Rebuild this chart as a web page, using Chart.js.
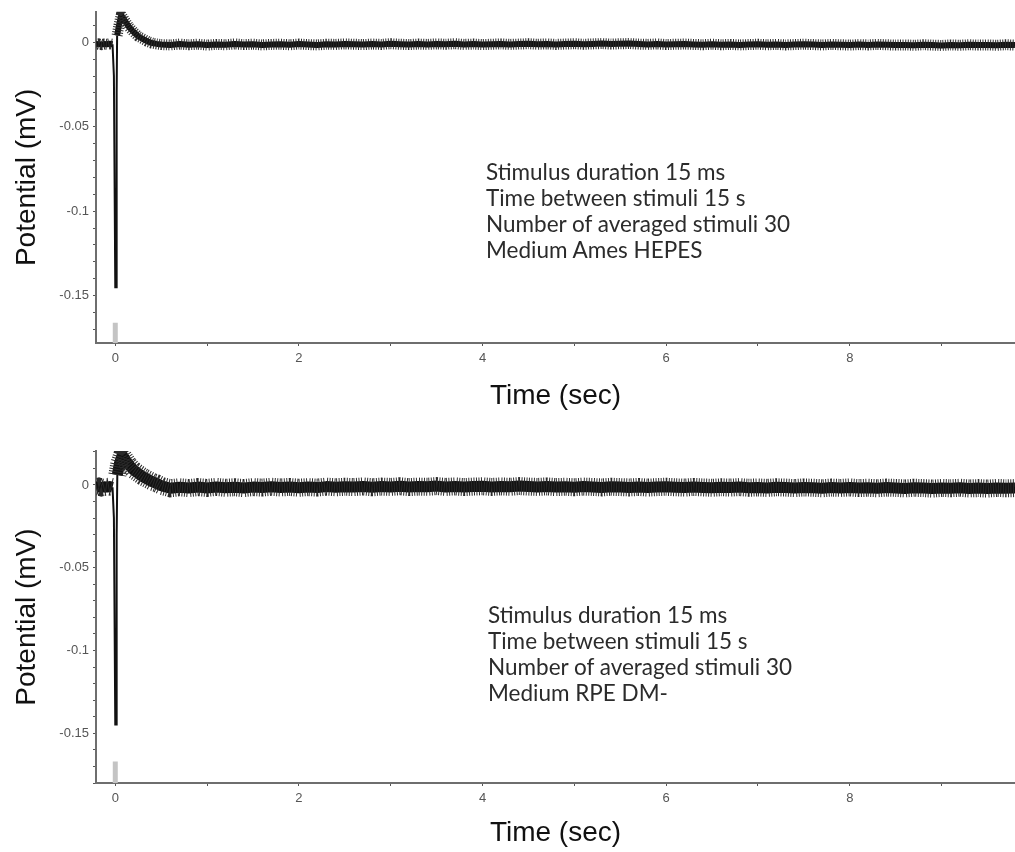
<!DOCTYPE html>
<html>
<head>
<meta charset="utf-8">
<script src="https://cdn.jsdelivr.net/npm/chart.js@4/dist/chart.umd.min.js"></script>
<style>
    html, body { margin: 0; padding: 0; background: #fff; }
    body { width: 1015px; height: 852px; position: relative; overflow: hidden; }
    .wrap { position: absolute; left: 0; width: 1015px; }
    .note {
        position: absolute;
        font-family: Lato, "Noto Sans", sans-serif;
        font-size: 22.5px;
        line-height: 26px;
        color: #2b2b2b;
        white-space: nowrap;
    }
</style>
</head>
<body>
<div class="wrap" style="top:0;height:420px"><canvas id="topChart"></canvas></div>
<div class="wrap" style="top:420px;height:432px"><canvas id="bottomChart"></canvas></div>

<div class="note" style="left:486px;top:159px">
    Stimulus duration 15 ms<br>Time between stimuli 15 s<br>Number of averaged stimuli 30<br>Medium Ames HEPES
</div>
<div class="note" style="left:488px;top:602px">
    Stimulus duration 15 ms<br>Time between stimuli 15 s<br>Number of averaged stimuli 30<br>Medium RPE DM-
</div>

<script>
// --- Data ---
const xTickLabels = ['0', '2', '4', '6', '8'];
const yTickLabels = ['0', '-0.05', '-0.1', '-0.15'];

// before the flash
const preTime = [-0.21, -0.18, -0.15, -0.12, -0.09, -0.06, -0.03];
const prePotentialA = [-0.0013, -0.0010, -0.0014, -0.0011, -0.0012, -0.0009, -0.0012];
const prePotentialB = [-0.0014, -0.0010, -0.0015, -0.0011, -0.0013, -0.0010, -0.0014];

// the fast negative spike
const spikeTimeA = [-0.03, -0.015, 0, 0.008, 0.015, 0.02];
const spikePotentialA = [-0.0012, -0.020, -0.145, -0.145, -0.030, 0.004];
const spikeTimeB = [-0.03, -0.015, 0, 0.008, 0.015, 0.022];
const spikePotentialB = [-0.0014, -0.020, -0.1446, -0.1446, -0.030, 0.006];

// positive overshoot and decay
const decayTimeA = [0.02, 0.04, 0.065, 0.1, 0.15, 0.2, 0.25, 0.3, 0.35, 0.4, 0.45, 0.5];
const decayPotentialA = [0.004, 0.010, 0.016, 0.013, 0.009, 0.006, 0.0035, 0.002, 0.0005, -0.0005, -0.0010, -0.0014];
const decayTimeB = [0.022, 0.045, 0.075, 0.1, 0.15, 0.2, 0.25, 0.3, 0.35, 0.4, 0.45, 0.5];
const decayPotentialB = [0.006, 0.013, 0.018, 0.016, 0.012, 0.009, 0.007, 0.005, 0.0035, 0.002, 0.001, -0.0005];

// steady noisy baseline
const tailTime = [
    0.6, 0.7, 0.8, 0.9, 1.0, 1.1, 1.2, 1.3, 1.4, 1.5,
    1.6, 1.7, 1.8, 1.9, 2.0, 2.1, 2.2, 2.3, 2.4, 2.5,
    2.6, 2.7, 2.8, 2.9, 3.0, 3.1, 3.2, 3.3, 3.4, 3.5,
    3.6, 3.7, 3.8, 3.9, 4.0, 4.1, 4.2, 4.3, 4.4, 4.5,
    4.6, 4.7, 4.8, 4.9, 5.0, 5.1, 5.2, 5.3, 5.4, 5.5,
    5.6, 5.7, 5.8, 5.9, 6.0, 6.1, 6.2, 6.3, 6.4, 6.5,
    6.6, 6.7, 6.8, 6.9, 7.0, 7.1, 7.2, 7.3, 7.4, 7.5,
    7.6, 7.7, 7.8, 7.9, 8.0, 8.1, 8.2, 8.3, 8.4, 8.5,
    8.6, 8.7, 8.8, 8.9, 9.0, 9.1, 9.2, 9.3, 9.4, 9.5,
    9.6, 9.7, 9.8
];
const tailPotentialA = [
    -0.0016, -0.0011, -0.0015, -0.0012, -0.0017, -0.0013, -0.0015, -0.0010, -0.0014, -0.0012,
    -0.0016, -0.0013, -0.0012, -0.0015, -0.0011, -0.0014, -0.0016, -0.0012, -0.0013, -0.0010,
    -0.0012, -0.0014, -0.0011, -0.0013, -0.0009, -0.0012, -0.0014, -0.0011, -0.0013, -0.0010,
    -0.0012, -0.0009, -0.0013, -0.0011, -0.0014, -0.0012, -0.0010, -0.0013, -0.0011, -0.0009,
    -0.0012, -0.0010, -0.0013, -0.0011, -0.0009, -0.0012, -0.0010, -0.0008, -0.0011, -0.0009,
    -0.0008, -0.0011, -0.0013, -0.0010, -0.0014, -0.0012, -0.0011, -0.0013, -0.0015, -0.0012,
    -0.0015, -0.0013, -0.0016, -0.0014, -0.0012, -0.0015, -0.0013, -0.0016, -0.0014, -0.0012,
    -0.0014, -0.0016, -0.0013, -0.0015, -0.0017, -0.0014, -0.0016, -0.0013, -0.0015, -0.0017,
    -0.0016, -0.0018, -0.0015, -0.0017, -0.0019, -0.0016, -0.0018, -0.0015, -0.0017, -0.0016,
    -0.0018, -0.0015, -0.0017
];
const tailPotentialB = [
    -0.0020, -0.0014, -0.0019, -0.0013, -0.0018, -0.0012, -0.0017, -0.0014, -0.0019, -0.0013,
    -0.0016, -0.0011, -0.0015, -0.0012, -0.0017, -0.0013, -0.0016, -0.0010, -0.0014, -0.0011,
    -0.0013, -0.0009, -0.0014, -0.0010, -0.0012, -0.0008, -0.0013, -0.0010, -0.0011, -0.0007,
    -0.0012, -0.0009, -0.0013, -0.0010, -0.0008, -0.0012, -0.0009, -0.0011, -0.0007, -0.0010,
    -0.0012, -0.0009, -0.0013, -0.0011, -0.0014, -0.0010, -0.0012, -0.0015, -0.0011, -0.0013,
    -0.0015, -0.0012, -0.0016, -0.0013, -0.0011, -0.0014, -0.0016, -0.0012, -0.0015, -0.0017,
    -0.0014, -0.0016, -0.0013, -0.0017, -0.0015, -0.0018, -0.0014, -0.0016, -0.0019, -0.0015,
    -0.0017, -0.0020, -0.0016, -0.0018, -0.0015, -0.0019, -0.0017, -0.0020, -0.0016, -0.0018,
    -0.0021, -0.0017, -0.0019, -0.0022, -0.0018, -0.0020, -0.0017, -0.0021, -0.0019, -0.0022,
    -0.0018, -0.0020, -0.0019
];

// grey stimulus marker under t = 0
const stimulusTime = [0, 0];
const stimulusMarkA = [-0.166, -0.178];
const stimulusMarkB = [-0.167, -0.18];

document.addEventListener('DOMContentLoaded', function () {

    // --- Init ---
    initTraceChart('topChart', {
        pre: toPoints(preTime, prePotentialA),
        spike: toPoints(spikeTimeA, spikePotentialA),
        rest: toPoints(decayTimeA.concat(tailTime), decayPotentialA.concat(tailPotentialA)),
        mark: toPoints(stimulusTime, stimulusMarkA),
        yMin: -0.178, yMax: 0.018,
        padTop: 10, xAxisHeight: 77, xTitlePad: 7,
        core: 6, fringe: 11
    });
    initTraceChart('bottomChart', {
        pre: toPoints(preTime, prePotentialB),
        spike: toPoints(spikeTimeB, spikePotentialB),
        rest: toPoints(decayTimeB.concat(tailTime), decayPotentialB.concat(tailPotentialB)),
        mark: toPoints(stimulusTime, stimulusMarkB),
        yMin: -0.18, yMax: 0.0205,
        padTop: 31, xAxisHeight: 69, xTitlePad: 2,
        core: 11, fringe: 18
    });

    function toPoints(xs, ys) {
        return xs.map(function (x, i) { return { x: x, y: ys[i] }; });
    }

    function initTraceChart(id, cfg) {
        const ctx = document.getElementById(id).getContext('2d');
        const axisColor = '#6e6e6e';
        const tickFont = { family: 'Liberation Sans', size: 13 };
        const titleFont = { family: 'Liberation Sans', size: 28 };
        // baseline band: pre-flash part, a gap over the spike, then decay + tail
        const band = cfg.pre.concat([{ x: 0, y: null }], cfg.rest);

        new Chart(ctx, {
            type: 'line',
            data: {
                datasets: [{
                    // hair-like noise fringe around the band
                    data: band,
                    borderColor: '#2a2a2a',
                    borderWidth: cfg.fringe,
                    borderDash: [1, 1.5],
                    borderCapStyle: 'butt',
                    pointRadius: 0,
                    spanGaps: false
                }, {
                    data: band,
                    borderColor: '#111',
                    borderWidth: cfg.core,
                    borderJoinStyle: 'round',
                    pointRadius: 0,
                    spanGaps: false
                }, {
                    data: cfg.spike,
                    borderColor: '#111',
                    borderWidth: 2,
                    pointRadius: 0
                }, {
                    data: cfg.mark,
                    borderColor: '#c4c4c4',
                    borderWidth: 5,
                    pointRadius: 0,
                    clip: 0
                }]
            },
            options: {
                responsive: true,
                maintainAspectRatio: false,
                animation: false,
                layout: { padding: { top: cfg.padTop, right: 0, bottom: 0, left: 0 } },
                plugins: { legend: { display: false }, tooltip: { enabled: false } },
                scales: {
                    x: {
                        type: 'linear',
                        min: -0.21,
                        max: 9.8,
                        afterFit: function (s) { s.height = cfg.xAxisHeight; },
                        border: { color: axisColor, width: 2 },
                        grid: { drawOnChartArea: false, tickLength: 3, color: '#555' },
                        ticks: {
                            stepSize: 1,
                            includeBounds: false,
                            autoSkip: false,
                            maxRotation: 0,
                            padding: 5,
                            color: '#555',
                            font: tickFont,
                            callback: function (v) {
                                return xTickLabels.indexOf(String(v)) >= 0 ? String(v) : '';
                            }
                        },
                        title: {
                            display: true,
                            text: 'Time (sec)',
                            color: '#111',
                            font: titleFont,
                            padding: { top: 0, bottom: cfg.xTitlePad }
                        }
                    },
                    y: {
                        min: cfg.yMin,
                        max: cfg.yMax,
                        afterFit: function (s) { s.width = 96; },
                        border: { color: axisColor, width: 2 },
                        grid: { drawOnChartArea: false, tickLength: 3, color: '#555' },
                        ticks: {
                            stepSize: 0.01,
                            includeBounds: false,
                            autoSkip: false,
                            padding: 4,
                            color: '#555',
                            font: tickFont,
                            callback: function (v) {
                                const label = String(Number(v.toFixed(2)));
                                return yTickLabels.indexOf(label) >= 0 ? label : '';
                            }
                        },
                        title: {
                            display: true,
                            text: 'Potential (mV)',
                            color: '#111',
                            font: titleFont,
                            padding: { top: 10, bottom: 0 }
                        }
                    }
                }
            }
        });
    }

});
</script>
</body>
</html>
